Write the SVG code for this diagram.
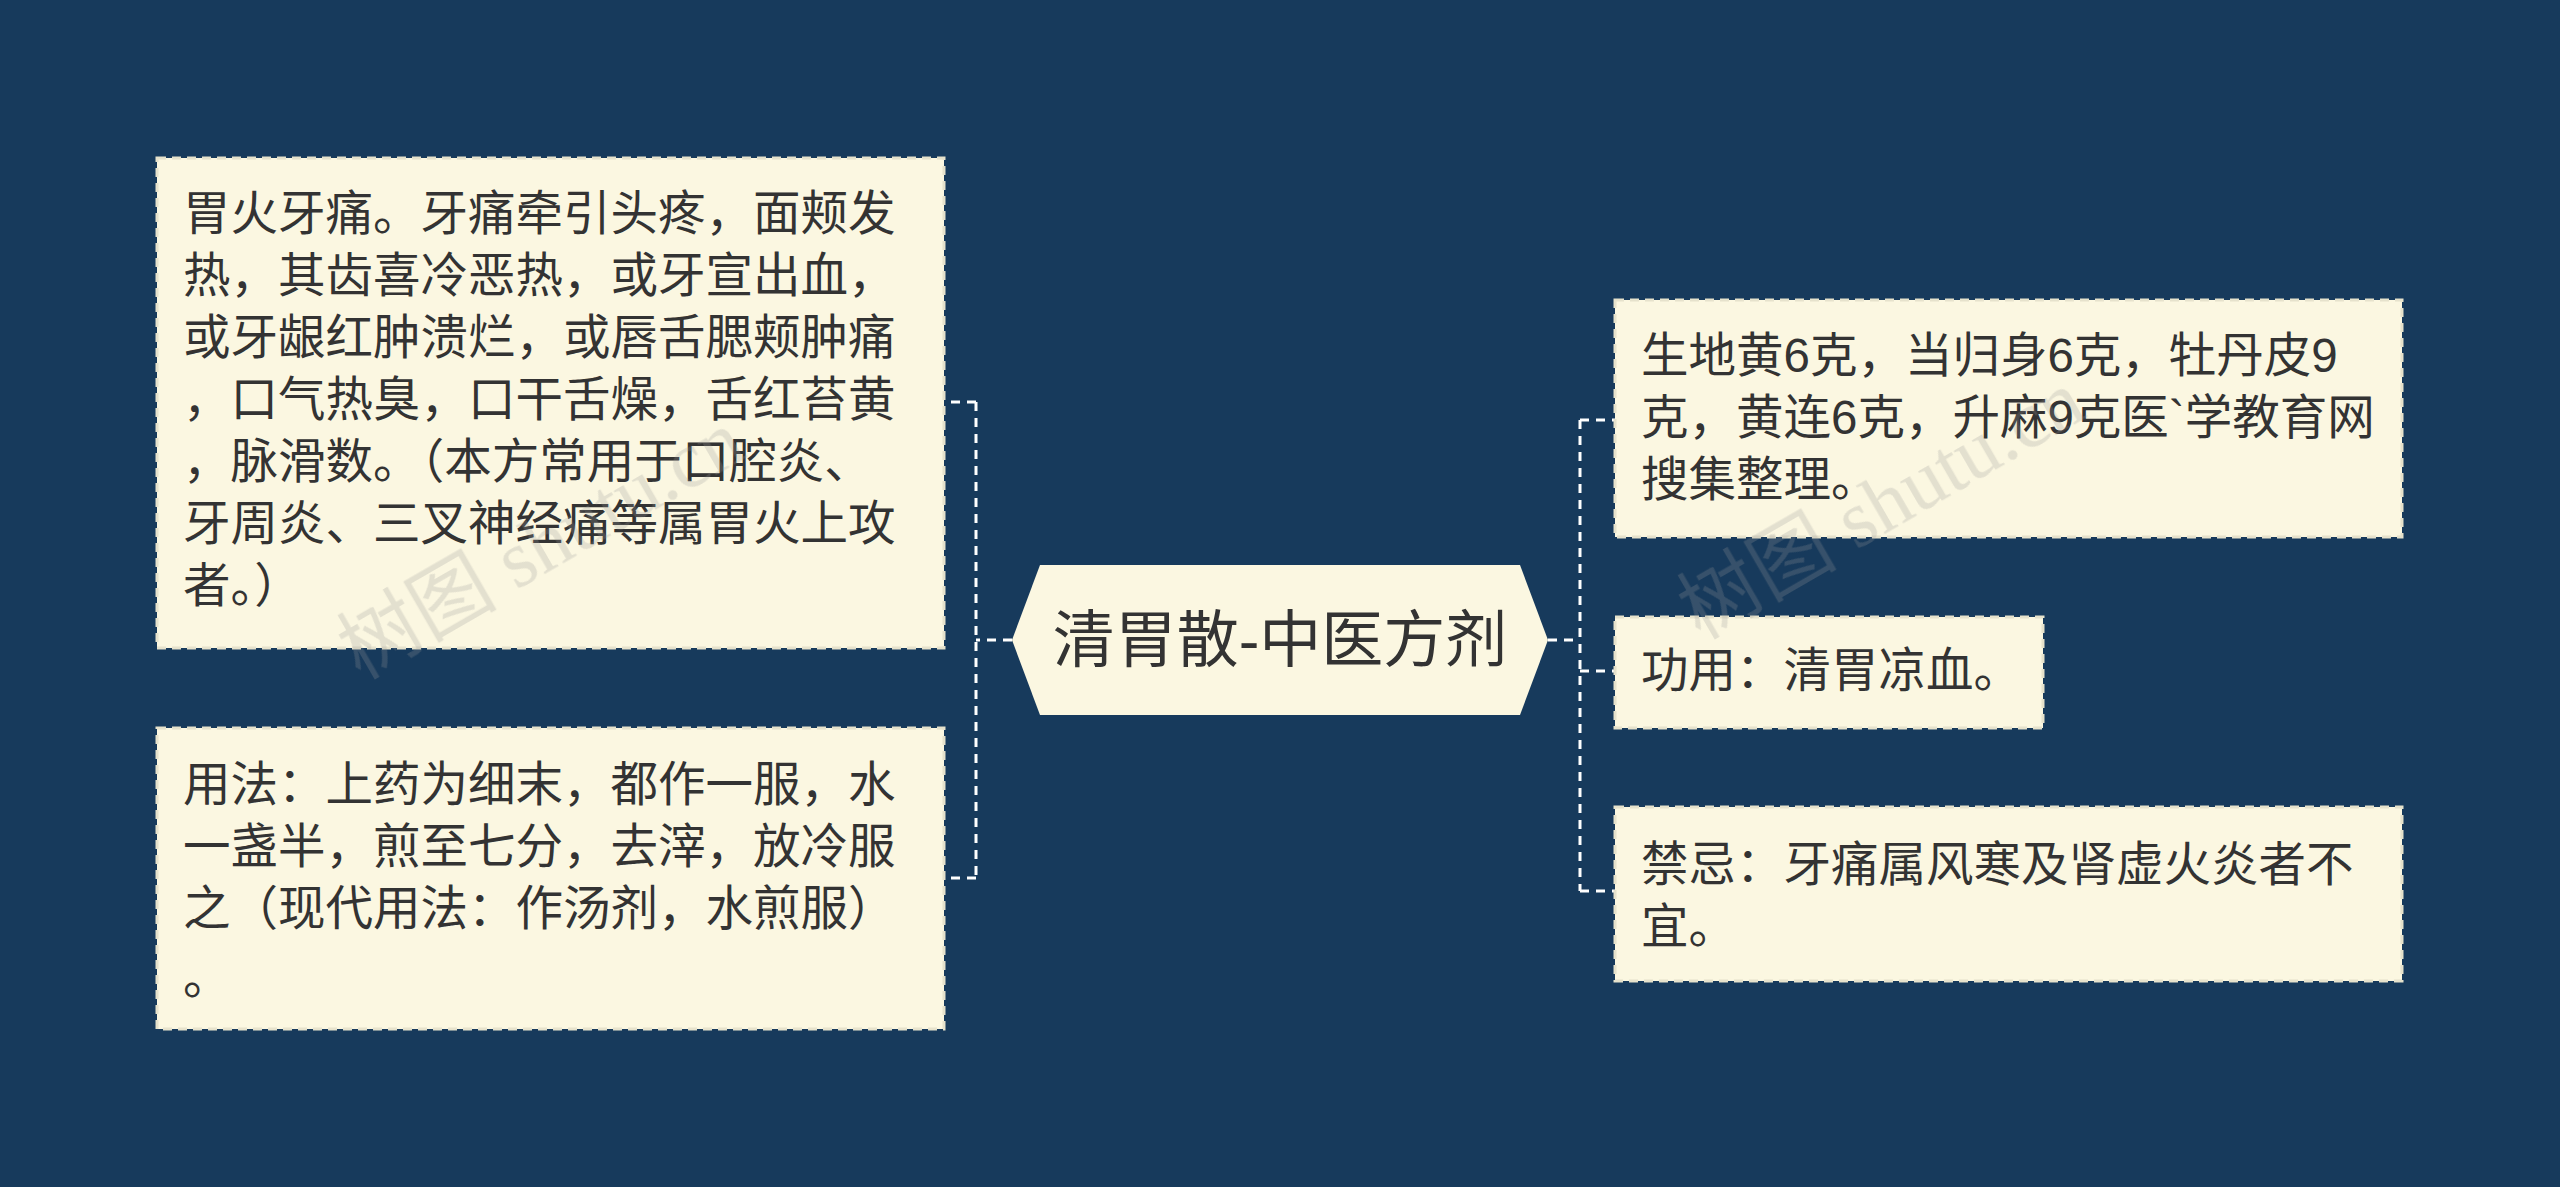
<svg xmlns="http://www.w3.org/2000/svg" width="2560" height="1187" viewBox="0 0 2560 1187">
<style>
.box{fill:#fbf7e1;stroke:#e6e2cc;stroke-width:3;stroke-dasharray:9 6}
.t{font-family:"Liberation Sans","Noto Sans CJK SC",sans-serif;font-size:47.5px;fill:#333333}
.c{fill:none;stroke:#ffffff;stroke-width:3;stroke-dasharray:9 7}
</style>
<rect width="2560" height="1187" fill="#173a5c"/>
<g id="connectors">
<path class="c" d="M1012 640H976M976 402V878M976 402H944M976 878H944"/>
<path class="c" d="M1548 640H1580M1580 420V891M1580 420H1615M1580 671H1615M1580 891H1615"/>
</g>
<g id="center">
<polygon points="1012,640 1040,565 1520,565 1548,640 1520,715 1040,715" fill="#fbf7e1"/>
<text class="t" x="1280" y="662" text-anchor="middle" style="font-size:62px">清胃散-中医方剂</text>
</g>
<g id="left1">
<rect class="box" x="157" y="158" width="787" height="490"/>
<text class="t"><tspan x="183" y="230">胃火牙痛。牙痛牵引头疼，面颊发</tspan><tspan x="183" y="292">热，其齿喜冷恶热，或牙宣出血，</tspan><tspan x="183" y="354">或牙龈红肿溃烂，或唇舌腮颊肿痛</tspan><tspan x="183" y="416">，口气热臭，口干舌燥，舌红苔黄</tspan><tspan x="183" y="478">，脉滑数。（本方常用于口腔炎、</tspan><tspan x="183" y="540">牙周炎、三叉神经痛等属胃火上攻</tspan><tspan x="183" y="602">者。）</tspan></text>
</g>
<g id="left2">
<rect class="box" x="157" y="728" width="787" height="301"/>
<text class="t"><tspan x="183" y="801">用法：上药为细末，都作一服，水</tspan><tspan x="183" y="863">一盏半，煎至七分，去滓，放冷服</tspan><tspan x="183" y="925">之（现代用法：作汤剂，水煎服）</tspan><tspan x="183" y="994">。</tspan></text>
</g>
<g id="right1">
<rect class="box" x="1615" y="300" width="787" height="237"/>
<text class="t"><tspan x="1641" y="372">生地黄6克，当归身6克，牡丹皮9</tspan><tspan x="1641" y="434">克，黄连6克，升麻9克医`学教育网</tspan><tspan x="1641" y="496">搜集整理。</tspan></text>
</g>
<g id="right2">
<rect class="box" x="1615" y="617" width="428" height="111"/>
<text class="t" x="1641" y="687">功用：清胃凉血。</text>
</g>
<g id="right3">
<rect class="box" x="1615" y="807" width="787" height="174"/>
<text class="t"><tspan x="1641" y="881">禁忌：牙痛属风寒及肾虚火炎者不</tspan><tspan x="1641" y="943">宜。</tspan></text>
</g>
<g font-family="Liberation Serif,Noto Sans CJK SC,serif" font-size="80" fill="#999" opacity="0.25">
<text x="360" y="680" transform="rotate(-30 360 680)">树图 shutu.cn</text>
<text x="1700" y="640" transform="rotate(-30 1700 640)">树图 shutu.cn</text>
</g>
</svg>
